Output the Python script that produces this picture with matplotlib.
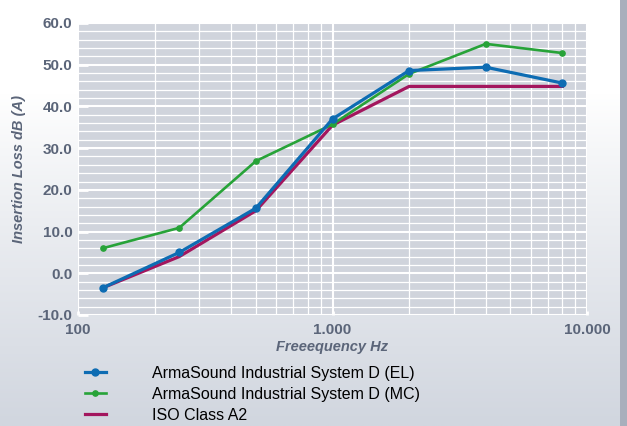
import numpy as np
import matplotlib
matplotlib.use("Agg")
import matplotlib.pyplot as plt
from matplotlib.colors import LinearSegmentedColormap
from matplotlib.ticker import FixedLocator, LogLocator, MultipleLocator, NullFormatter

plt.rcParams['font.family'] = ['Liberation Sans', 'DejaVu Sans']

# Octave-band centre frequencies (Hz)
freqs = [125, 250, 500, 1000, 2000, 4000, 8000]

# Insertion loss values, dB(A)
system_el = [-3.5, 5.0, 15.6, 37.0, 48.6, 49.4, 45.6]
system_mc = [6.0, 10.9, 26.9, 35.7, 47.8, 55.0, 52.8]
iso_a2 = [-3.5, 4.0, 15.0, 35.5, 44.8, 44.8, 44.8]

series_labels = [
    "ArmaSound Industrial System D (EL)",
    "ArmaSound Industrial System D (MC)",
    "ISO Class A2",
]

y_ticks = [-10, 0, 10, 20, 30, 40, 50, 60]
x_ticks = [100, 1000, 10000]
x_tick_labels = ["100", "1.000", "10.000"]

W, H = 627, 426
fig = plt.figure(figsize=(W / 100, H / 100), dpi=100)

# Page background: white fading to a cool grey towards the bottom
bg = fig.add_axes([0, 0, 1, 1], zorder=-10)
bg.set_axis_off()
t = np.linspace(0, 1, 400)
ramp = np.clip((t - 0.22) / 0.78, 0, 1) ** 0.9
grad = ramp[:, None] * np.ones((1, 10))
cmap = LinearSegmentedColormap.from_list("page", ["#ffffff", "#d1d6df"])
bg.imshow(grad, cmap=cmap, aspect="auto", extent=[0, 1, 1, 0], vmin=0, vmax=1)
bg.set_xlim(0, 1)
bg.set_ylim(1, 0)
bg.add_patch(plt.Rectangle((620 / W, 0), 7 / W, 1, color="#a8afbc", lw=0))

ax = fig.add_axes([78 / W, (H - 315) / H, (587 - 78) / W, (315 - 23) / H])
ax.set_facecolor("#d0d4dc")
ax.set_xscale("log")
ax.set_xlim(100, 10000)
ax.set_ylim(-10, 60)

for s in ax.spines.values():
    s.set_visible(False)

ax.xaxis.set_major_locator(FixedLocator(x_ticks))
ax.set_xticklabels(x_tick_labels)
ax.xaxis.set_minor_locator(LogLocator(base=10, subs=np.arange(2, 10)))
ax.xaxis.set_minor_formatter(NullFormatter())
ax.yaxis.set_major_locator(FixedLocator(y_ticks))
ax.set_yticklabels([f"{v:.1f}" for v in y_ticks])
ax.yaxis.set_minor_locator(MultipleLocator(2))

ax.grid(which="major", color="white", lw=1.5, zorder=0)
ax.grid(which="minor", color="white", lw=0.9, zorder=0)
ax.set_axisbelow(True)

label_color = "#5b6579"
ax.tick_params(axis="y", which="major", direction="in", length=7, width=2,
               color="white", labelsize=11, labelcolor=label_color, pad=4)
ax.tick_params(axis="x", which="major", direction="in", length=3, width=2,
               color="white", labelsize=11, labelcolor=label_color, pad=6)
ax.tick_params(which="minor", length=0)
for lab in ax.get_xticklabels() + ax.get_yticklabels():
    lab.set_fontweight("bold")

ax.set_ylabel("Insertion Loss dB (A)", fontsize=10.5, fontweight="bold",
              fontstyle="italic", color=label_color, labelpad=8)
ax.set_xlabel("Freeequency Hz", fontsize=10.5, fontweight="bold",
              fontstyle="italic", color=label_color, labelpad=2)

l1, = ax.plot(freqs, system_el, color="#0d6cb3", lw=2.3, marker="o", ms=5,
              zorder=4, label=series_labels[0])
l2, = ax.plot(freqs, system_mc, color="#27a338", lw=1.9, marker="o", ms=3.8,
              zorder=3, label=series_labels[1])
l3, = ax.plot(freqs, iso_a2, color="#a3165e", lw=2.3, zorder=2,
              label=series_labels[2])

fig.legend(handles=[l1, l2, l3], loc="upper left",
           bbox_to_anchor=(85 / W, 1 - 366 / H), frameon=False,
           fontsize=11.5, handlelength=1.3, handletextpad=2.9,
           labelspacing=0.36, borderaxespad=0, borderpad=0)

fig.savefig("out.png", dpi=100)
